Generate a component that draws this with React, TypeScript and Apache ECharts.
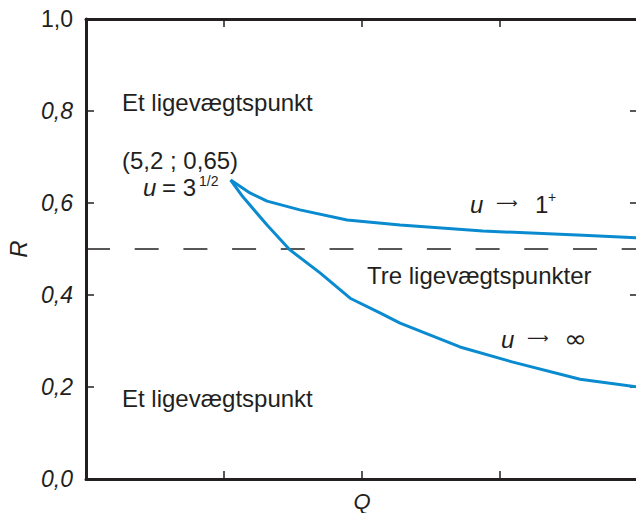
import React, { useEffect, useRef } from "react";
import * as echarts from "echarts";

// Curve u -> 1+ (upper branch)
const upperQ = [5.24, 5.94, 6.56, 7.75, 9.46, 11.38, 14.38, 18.0, 20.0];
const upperR = [0.65, 0.622, 0.604, 0.585, 0.563, 0.552, 0.539, 0.53, 0.524];
// Curve u -> infinity (lower branch)
const lowerQ = [5.24, 5.69, 6.56, 7.39, 8.48, 9.57, 10.65, 11.38, 13.55, 15.47, 17.9, 20.0];
const lowerR = [0.65, 0.613, 0.552, 0.498, 0.448, 0.393, 0.361, 0.339, 0.287, 0.254, 0.217, 0.2];
// Threshold line R = 0.5
const thresholdQ = [0, 20];
const thresholdR = [0.5, 0.5];
// Axis tick labels
const yTickValues = [0, 0.2, 0.4, 0.6, 0.8, 1.0];
const yTickLabels = ["0,0", "0,2", "0,4", "0,6", "0,8", "1,0"];

const INK = "#231f20";
const BLUE = "#0a8bd0";
const FONT = "'Liberation Sans', Arial, Helvetica, sans-serif";
const SYM = "'DejaVu Sans', sans-serif";

function txt(
  text: string,
  x: number,
  y: number,
  size = 24,
  italic = false,
  family = FONT,
  scaleX = 1
) {
  return {
    type: "text",
    x,
    y,
    scaleX,
    silent: true,
    style: {
      text,
      fill: INK,
      fontSize: size,
      fontFamily: family,
      fontStyle: italic ? "italic" : "normal",
      align: "left",
      verticalAlign: "middle",
    },
  };
}

export default function App() {
  const ref = useRef<HTMLDivElement>(null);
  useEffect(() => {
    if (!ref.current) return;
    const chart = echarts.init(ref.current, undefined, { renderer: "svg" });
    const axisLine = { show: true, onZero: false, lineStyle: { color: INK, width: 3 } };
    const axisTick = { show: true, inside: true, length: 8, lineStyle: { color: INK, width: 1.5 } };
    chart.setOption({
      animation: false,
      grid: {
        left: 86,
        top: 19,
        width: 552,
        height: 460,
        containLabel: false,
        outerBoundsMode: "none",
      },
      xAxis: [
        {
          type: "value",
          min: 0,
          max: 20,
          interval: 5,
          name: "Q",
          nameLocation: "middle",
          nameGap: 11,
          nameTextStyle: {
            fontSize: 22,
            lineHeight: 22,
            fontStyle: "italic",
            fontFamily: FONT,
            color: INK,
            verticalAlign: "top",
          },
          axisLine,
          axisTick,
          axisLabel: { show: false },
          splitLine: { show: false },
        },
        {
          type: "value",
          min: 0,
          max: 20,
          interval: 5,
          position: "top",
          axisLine,
          axisTick,
          axisLabel: { show: false },
          splitLine: { show: false },
        },
      ],
      yAxis: [
        {
          type: "value",
          min: 0,
          max: 1,
          interval: 0.2,
          name: "R",
          nameLocation: "middle",
          nameGap: 56,
          nameRotate: 90,
          nameTextStyle: { fontSize: 24, fontStyle: "italic", fontFamily: FONT, color: INK },
          axisLine,
          axisTick,
          axisLabel: {
            show: true,
            margin: 13,
            formatter: (v: number) => {
              const idx = yTickValues.findIndex((t) => Math.abs(t - v) < 1e-6);
              const label = idx >= 0 ? yTickLabels[idx] : String(v);
              return Math.abs(v - 1) < 1e-6 ? "{n|" + label + "}" : "{i|" + label + "}";
            },
            rich: {
              n: { fontSize: 23, fontFamily: FONT, color: INK, fontStyle: "normal" },
              i: { fontSize: 23, fontFamily: FONT, color: INK, fontStyle: "italic" },
            },
          },
          splitLine: { show: false },
        },
        {
          type: "value",
          min: 0,
          max: 1,
          interval: 0.2,
          position: "right",
          axisLine,
          axisTick,
          axisLabel: { show: false },
          splitLine: { show: false },
        },
      ],
      series: [
        {
          type: "line",
          name: "threshold",
          data: thresholdQ.map((q, i) => [q, thresholdR[i]]),
          symbol: "none",
          lineStyle: { color: INK, width: 1.3, type: [24, 24.7] },
          z: 1,
        },
        {
          type: "line",
          name: "u → 1+",
          data: upperQ.map((q, i) => [q, upperR[i]]),
          symbol: "none",
          smooth: false,
          lineStyle: { color: BLUE, width: 3 },
          z: 3,
        },
        {
          type: "line",
          name: "u → ∞",
          data: lowerQ.map((q, i) => [q, lowerR[i]]),
          symbol: "none",
          smooth: false,
          lineStyle: { color: BLUE, width: 3 },
          z: 3,
        },
      ],
      graphic: [
        txt("Et ligevægtspunkt", 122, 102),
        txt("(5,2 ; 0,65)", 122, 160),
        txt("u", 143, 187, 24, true),
        txt("= 3", 162, 187),
        txt("1/2", 199, 181, 14),
        txt("u", 470, 204, 24, true),
        txt("⟶", 496, 203, 15, false, SYM),
        txt("1", 535, 204),
        txt("+", 548, 197, 14),
        txt("Tre ligevægtspunkter", 367, 275),
        txt("u", 501, 339, 24, true),
        txt("⟶", 527, 338, 15, false, SYM),
        txt("∞", 564, 339, 24, false, SYM, 1.15),
        txt("Et ligevægtspunkt", 122, 398),
      ],
    });
    return () => chart.dispose();
  }, []);
  return (
    <div
      ref={ref}
      style={{ position: "fixed", left: 0, top: 0, width: 636, height: 513, background: "#fff" }}
    />
  );
}
